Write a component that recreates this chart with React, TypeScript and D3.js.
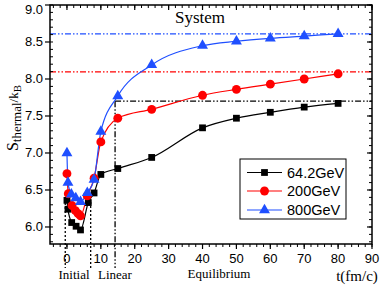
import React from "react";
import * as d3 from "d3";

const t642 = [0, 0.3, 1.4, 2.7, 4, 6.3, 8, 10, 15, 25, 40, 50, 60, 70, 80];
const s642 = [6.36, 6.24, 6.06, 6.01, 5.96, 6.33, 6.46, 6.71, 6.79, 6.94, 7.34, 7.47, 7.55, 7.62, 7.67];
const t200 = [0, 0.4, 1.5, 2.5, 3.3, 4, 6, 8, 10, 15, 25, 40, 50, 60, 70, 80];
const s200 = [6.72, 6.45, 6.29, 6.22, 6.18, 6.15, 6.42, 6.66, 7.15, 7.47, 7.59, 7.78, 7.86, 7.93, 8.0, 8.07];
const t800 = [0, 0.3, 1.3, 2.6, 4, 6, 8, 10, 15, 25, 40, 50, 60, 70, 80];
const s800 = [7.0, 6.6, 6.44, 6.39, 6.34, 6.46, 6.64, 7.29, 7.77, 8.19, 8.45, 8.51, 8.55, 8.58, 8.61];
const seriesNames = ["64.2GeV", "200GeV", "800GeV"];
const limits = [7.7, 8.095, 8.61];
const phaseLines = [-0.5, 7, 14.2];
const phaseLabels = ["Initial", "Linear", "Equilibrium"];
const xTicks = [0, 10, 20, 30, 40, 50, 60, 70, 80, 90];
const yTicks = [6.0, 6.5, 7.0, 7.5, 8.0, 8.5, 9.0];

const W = 381, H = 287;
const L = 50, R = 372, T = 5, B = 244;

export default function App() {
  const x = d3.scaleLinear([-5, 90], [L, R]);
  const y = d3.scaleLinear([5.77, 9.0], [B, T]);
  const colors = ["#000000", "#ff0000", "#1f4fff"];
  const data = [
    t642.map((t, i) => [t, s642[i]] as [number, number]),
    t200.map((t, i) => [t, s200[i]] as [number, number]),
    t800.map((t, i) => [t, s800[i]] as [number, number]),
  ];
  const line = d3.line<[number, number]>().x(d => x(d[0])).y(d => y(d[1])).curve(d3.curveMonotoneX);
  const xMinor = d3.range(-4, 90.01, 2);
  const yMinor = d3.range(5.8, 9.001, 0.1);
  const sans = "Liberation Sans, Arial, sans-serif";
  const serif = "Liberation Serif, Times New Roman, serif";
  const dashDot = "6,2,1.5,2,1.5,2";
  const sq = d3.symbol().type(d3.symbolSquare).size(46)()!;
  const circ = d3.symbol().type(d3.symbolCircle).size(62)()!;
  const tri = d3.symbol().type(d3.symbolTriangle).size(52)()!;
  const markers = [sq, circ, tri];
  const legendY = [172.5, 191, 210];

  return (
    <svg width={W} height={H} style={{ position: "absolute", left: 0, top: 0, background: "#fff" }}>
      {limits.map((v, i) => (
        <line key={"lim" + i} x1={i === 0 ? x(14.2) : L} x2={R} y1={y(v)} y2={y(v)}
          stroke={colors[i]} strokeWidth={1.3} strokeDasharray={dashDot} />
      ))}
      {phaseLines.map((v, i) => (
        <line key={"ph" + i} x1={x(v)} x2={x(v)} y1={i === 2 ? y(limits[0]) : i === 0 ? 203 : 202} y2={268}
          stroke="#000" strokeWidth={1.3} strokeDasharray={i === 2 ? dashDot : "2,2"} />
      ))}
      {data.map((d, i) => (
        <path key={"l" + i} d={line(d)!} fill="none" stroke={colors[i]} strokeWidth={1.2} />
      ))}
      {data.map((d, i) => d.map((p, j) => (
        <path key={"m" + i + "-" + j} d={markers[i]} transform={`translate(${x(p[0])},${y(p[1])})`} fill={colors[i]} />
      )))}
      <rect x={L} y={T} width={R - L} height={B - T} fill="none" stroke="#000" strokeWidth={1.5} />
      {xMinor.map((v, i) => (
        <g key={"xm" + i}>
          <line x1={x(v)} x2={x(v)} y1={B} y2={B + 3} stroke="#000" strokeWidth={1} />
          <line x1={x(v)} x2={x(v)} y1={T} y2={T + 3} stroke="#000" strokeWidth={1} />
        </g>
      ))}
      {xTicks.map((v, i) => (
        <g key={"xt" + i}>
          <line x1={x(v)} x2={x(v)} y1={B} y2={B + 5} stroke="#000" strokeWidth={1.2} />
          <line x1={x(v)} x2={x(v)} y1={T} y2={T + 5} stroke="#000" strokeWidth={1.2} />
          <text x={x(v)} y={263} textAnchor="middle" fontFamily={sans} fontSize={13}>{v}</text>
        </g>
      ))}
      {yMinor.map((v, i) => (
        <g key={"ym" + i}>
          <line x1={L} x2={L + 3} y1={y(v)} y2={y(v)} stroke="#000" strokeWidth={1} />
          <line x1={R} x2={R - 3} y1={y(v)} y2={y(v)} stroke="#000" strokeWidth={1} />
        </g>
      ))}
      {yTicks.map((v, i) => (
        <g key={"yt" + i}>
          <line x1={L - 5} x2={L} y1={y(v)} y2={y(v)} stroke="#000" strokeWidth={1.2} />
          <line x1={R - 5} x2={R} y1={y(v)} y2={y(v)} stroke="#000" strokeWidth={1.2} />
          <text x={43} y={Math.max(y(v) + 4.5, 13.5)} textAnchor="end" fontFamily={sans} fontSize={13}>{v.toFixed(1)}</text>
        </g>
      ))}
      <text transform="translate(18,118) rotate(-90)" textAnchor="middle" fontFamily={serif} fontSize={15}>
        <tspan fontSize={16}>S</tspan>
        <tspan fontSize={13} dy={3}>thermal</tspan>
        <tspan fontSize={13} dy={-3}>/k</tspan>
        <tspan fontSize={11} dy={3}>B</tspan>
      </text>
      <text x={357} y={281} textAnchor="middle" fontFamily={serif} fontSize={15}>t(fm/c)</text>
      <text x={200} y={23} textAnchor="middle" fontFamily={serif} fontSize={17}>System</text>
      <text x={74} y={279} textAnchor="middle" fontFamily={serif} fontSize={13}>{phaseLabels[0]}</text>
      <text x={115} y={279} textAnchor="middle" fontFamily={serif} fontSize={13}>{phaseLabels[1]}</text>
      <text x={219} y={278} textAnchor="middle" fontFamily={serif} fontSize={13}>{phaseLabels[2]}</text>
      <rect x={240} y={159} width={106} height={60} fill="#fff" stroke="#000" strokeWidth={1} />
      {seriesNames.map((n, i) => (
        <g key={"lg" + i}>
          <line x1={247} x2={282} y1={legendY[i]} y2={legendY[i]} stroke={colors[i]} strokeWidth={1.2} />
          <path d={markers[i]} transform={`translate(264.5,${legendY[i]})`} fill={colors[i]} />
          <text x={287} y={legendY[i] + 5} fontFamily={sans} fontSize={14.5}>{n}</text>
        </g>
      ))}
    </svg>
  );
}
